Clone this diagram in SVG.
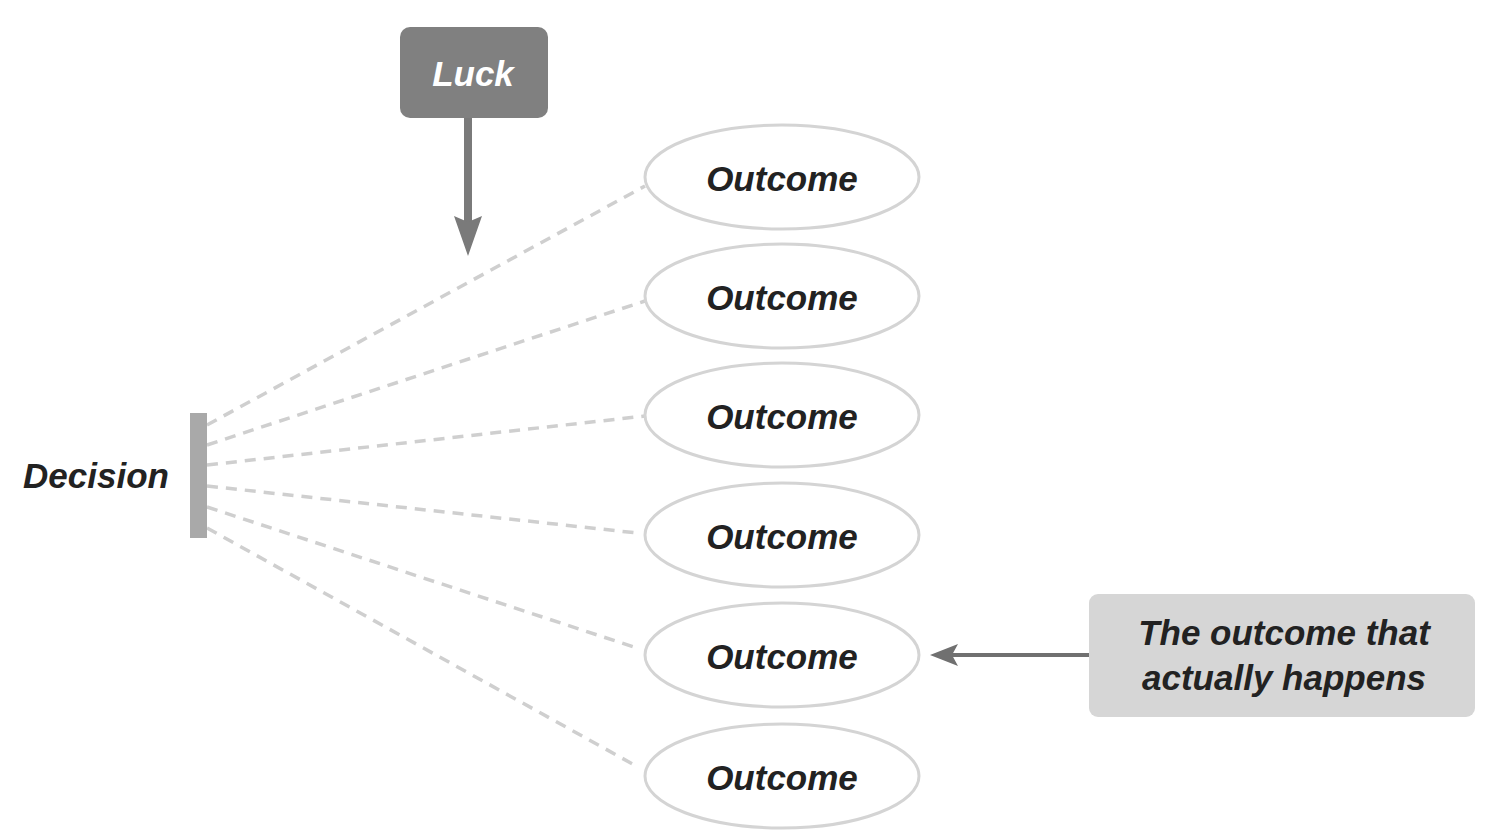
<svg xmlns="http://www.w3.org/2000/svg" width="1502" height="834" viewBox="0 0 1502 834">
<style>
.t{font-family:"Liberation Sans",Arial,sans-serif;font-weight:bold;font-style:italic;font-size:35px;fill:#222;text-anchor:middle}
.o{fill:#fff;stroke:#d4d4d4;stroke-width:3}
.d{stroke:#cfcfcf;stroke-width:3.5;stroke-dasharray:11 8;fill:none}
</style>
<rect width="1502" height="834" fill="#fff"/>
<g id="connectors">
<line class="d" x1="207" y1="425" x2="645" y2="186"/>
<line class="d" x1="207" y1="445" x2="645" y2="301"/>
<line class="d" x1="207" y1="465" x2="645" y2="416"/>
<line class="d" x1="207" y1="486" x2="637" y2="533"/>
<line class="d" x1="207" y1="507" x2="637" y2="648"/>
<line class="d" x1="207" y1="528" x2="638" y2="767"/>
<line x1="468" y1="118" x2="468" y2="222" stroke="#7a7a7a" stroke-width="8"/>
<polygon points="454,216 468,222 482,216 468,256" fill="#7a7a7a"/>
<line x1="1089" y1="655" x2="950" y2="655" stroke="#707070" stroke-width="4"/>
<polygon points="958,644 952,655 958,666 930,655" fill="#707070"/>
</g>
<g id="luck">
<rect x="400" y="27" width="148" height="91" rx="10" fill="#808080"/>
<text class="t" x="473" y="86" style="fill:#fff">Luck</text>
</g>
<g id="decision">
<rect x="190" y="413" width="17" height="125" fill="#a9a9a9"/>
<text class="t" x="96" y="488">Decision</text>
</g>
<g id="outcome1"><ellipse class="o" cx="782" cy="177" rx="137" ry="52"/><text class="t" x="782" y="191">Outcome</text></g>
<g id="outcome2"><ellipse class="o" cx="782" cy="296" rx="137" ry="52"/><text class="t" x="782" y="310">Outcome</text></g>
<g id="outcome3"><ellipse class="o" cx="782" cy="415" rx="137" ry="52"/><text class="t" x="782" y="429">Outcome</text></g>
<g id="outcome4"><ellipse class="o" cx="782" cy="535" rx="137" ry="52"/><text class="t" x="782" y="549">Outcome</text></g>
<g id="outcome5"><ellipse class="o" cx="782" cy="655" rx="137" ry="52"/><text class="t" x="782" y="669">Outcome</text></g>
<g id="outcome6"><ellipse class="o" cx="782" cy="776" rx="137" ry="52"/><text class="t" x="782" y="790">Outcome</text></g>
<g id="callout">
<rect x="1089" y="594" width="386" height="123" rx="9" fill="#d6d6d6"/>
<text class="t" x="1284" y="645">The outcome that</text>
<text class="t" x="1284" y="690">actually happens</text>
</g>
</svg>
